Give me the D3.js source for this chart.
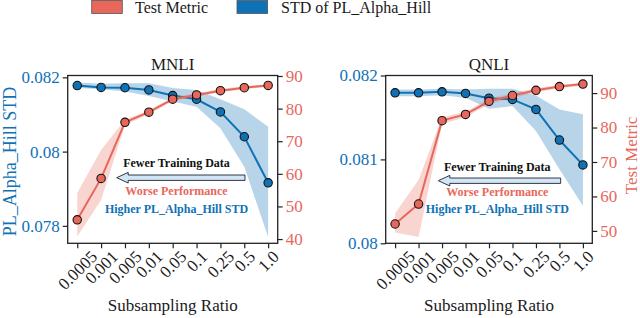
<!DOCTYPE html>
<html>
<head>
<meta charset="utf-8">
<script src="https://cdn.jsdelivr.net/npm/d3@7"></script>
<style>
	body { margin: 0; background: #fff; }
</style>
</head>
<body>
<svg id="chart" width="640" height="318"></svg>
<script>
// subsampling ratios (x categories)
var ratios = ["0.0005", "0.001", "0.005", "0.01", "0.05", "0.1", "0.25", "0.5", "1.0"];

// MNLI
var mnliStd      = [0.08178, 0.08173, 0.08172, 0.08166, 0.08151, 0.08141, 0.08107, 0.08040, 0.07916];
var mnliStdHi    = [0.08186, 0.08183, 0.08184, 0.08184, 0.08171, 0.08166, 0.08141, 0.08114, 0.08067];
var mnliStdLo    = [0.08171, 0.08168, 0.08162, 0.08150, 0.08135, 0.08121, 0.08063, 0.07959, 0.07770];
var mnliMetric   = [45.9, 58.6, 75.8, 78.9, 82.9, 84.2, 85.5, 86.4, 87.1];
var mnliMetricHi = [54.1, 67.3, 76.6, 79.5, 83.5, 84.7, 86.0, 86.9, 87.5];
var mnliMetricLo = [40.8, 52.0, 75.0, 78.3, 82.3, 83.7, 85.0, 85.9, 86.7];
var mnliStdTicks    = [0.078, 0.08, 0.082];
var mnliMetricTicks = [40, 50, 60, 70, 80, 90];

// QNLI
var qnliStd      = [0.081794, 0.081794, 0.081806, 0.081786, 0.08173, 0.081715, 0.081596, 0.081231, 0.080934];
var qnliStdHi    = [0.081834, 0.081834, 0.081842, 0.081834, 0.081842, 0.081842, 0.081762, 0.081596, 0.081537];
var qnliStdLo    = [0.081754, 0.081754, 0.081766, 0.081735, 0.081604, 0.081635, 0.081338, 0.080883, 0.080447];
var qnliMetric   = [52.0, 57.8, 82.0, 83.8, 87.6, 89.3, 90.8, 91.9, 92.6];
var qnliMetricHi = [55.1, 64.8, 83.0, 84.6, 88.4, 90.0, 91.4, 92.4, 93.0];
var qnliMetricLo = [49.5, 48.2, 81.0, 83.0, 86.8, 88.6, 90.2, 91.4, 92.2];
var qnliStdTicks    = [0.08, 0.081, 0.082];
var qnliMetricTicks = [50, 60, 70, 80, 90];

var legendLabels = ["Test Metric", "STD of PL_Alpha_Hill"];
var annoLines = ["Fewer Training Data", "Worse Performance", "Higher PL_Alpha_Hill STD"];

var BLUE = "#0f72b6", RED = "#e8675b", INK = "#222";

// pick the first serif face that is really installed (canvas width test)
function pickFont(){
	var ctx = document.createElement("canvas").getContext("2d");
	var probe = "Subsampling Ratio 0.0005 MNLI";
	var cands = ["Liberation Serif", "Tinos", "Times New Roman", "Nimbus Roman", "DejaVu Serif", "Noto Serif", "FreeSerif"];
	var bases = ["monospace", "sans-serif"];
	for (var i = 0; i < cands.length; i++) {
		for (var b = 0; b < bases.length; b++) {
			ctx.font = "20px " + bases[b];
			var w0 = ctx.measureText(probe).width;
			ctx.font = "20px '" + cands[i] + "', " + bases[b];
			if (Math.abs(ctx.measureText(probe).width - w0) > 0.5) return "'" + cands[i] + "', serif";
		}
	}
	return "serif";
}
var FONT = pickFont();

var svg = d3.select("#chart").attr("font-family", FONT);

function drawPanel(p){
	var g = svg.append("g").attr("transform", "translate(" + p.left + "," + p.top + ")");
	var x = d3.scaleLinear().domain([-0.4, ratios.length - 0.6]).range([0, p.w]);
	var yStd = d3.scaleLinear().domain(p.stdDomain).range([p.h, 0]);
	var yMet = d3.scaleLinear().domain(p.metDomain).range([p.h, 0]);

	g.append("clipPath").attr("id", "clip-" + p.id)
		.append("rect").attr("width", p.w).attr("height", p.h);
	var plot = g.append("g").attr("clip-path", "url(#clip-" + p.id + ")");

	var idx = d3.range(ratios.length);
	function band(y, lo, hi){
		return d3.area().x(function(i){ return x(i); })
			.y0(function(i){ return y(lo[i]); })
			.y1(function(i){ return y(hi[i]); })(idx);
	}
	function line(y, v){
		return d3.line().x(function(i){ return x(i); }).y(function(i){ return y(v[i]); })(idx);
	}

	// blue first, red (twin axis) on top
	plot.append("path").attr("d", band(yStd, p.stdLo, p.stdHi)).attr("fill", BLUE).attr("fill-opacity", 0.3);
	plot.append("path").attr("d", line(yStd, p.std)).attr("fill", "none").attr("stroke", BLUE).attr("stroke-width", 2);
	plot.selectAll(".ds").data(idx).enter().append("circle")
		.attr("cx", function(i){ return x(i); }).attr("cy", function(i){ return yStd(p.std[i]); })
		.attr("r", 4.2).attr("fill", BLUE).attr("stroke", "#111").attr("stroke-width", 1.1);

	plot.append("path").attr("d", band(yMet, p.metLo, p.metHi)).attr("fill", RED).attr("fill-opacity", 0.28);
	plot.append("path").attr("d", line(yMet, p.met)).attr("fill", "none").attr("stroke", RED).attr("stroke-width", 2);
	plot.selectAll(".dm").data(idx).enter().append("circle")
		.attr("cx", function(i){ return x(i); }).attr("cy", function(i){ return yMet(p.met[i]); })
		.attr("r", 4.2).attr("fill", RED).attr("stroke", "#111").attr("stroke-width", 1.1);

	// annotation arrow + text
	var ay = p.arrow.y, tip = p.arrow.tip, tail = p.arrow.tail, bh = 2.7, hh = 5.3, hl = 11.5;
	g.append("path").attr("d", d3.line()([
		[tail, ay - bh], [tip + hl, ay - bh], [tip + hl, ay - hh], [tip, ay],
		[tip + hl, ay + hh], [tip + hl, ay + bh], [tail, ay + bh]
	]) + "Z").attr("fill", "#d2e5f5").attr("stroke", "#1c2433").attr("stroke-width", 0.9);
	var annoColors = ["#111", RED, BLUE];
	annoLines.forEach(function(t, k){
		g.append("text").attr("x", p.anno.x).attr("y", p.anno.ys[k])
			.attr("text-anchor", "middle").attr("font-size", 12).attr("font-weight", "bold")
			.attr("fill", annoColors[k]).text(t);
	});

	// frame
	g.append("rect").attr("width", p.w).attr("height", p.h)
		.attr("fill", "none").attr("stroke", INK).attr("stroke-width", 1.3);

	function styleAxis(sel, color){
		sel.attr("font-family", FONT);
		sel.select(".domain").remove();
		sel.selectAll(".tick line").attr("stroke", INK).attr("stroke-width", 1.2);
		sel.selectAll(".tick text").attr("font-size", 17).attr("fill", color);
	}
	var fmt = d3.format("");
	g.append("g").call(d3.axisLeft(yStd).tickValues(p.stdTicks).tickFormat(fmt).tickSize(5).tickPadding(3))
		.call(styleAxis, BLUE);
	g.append("g").attr("transform", "translate(" + p.w + ",0)")
		.call(d3.axisRight(yMet).tickValues(p.metTicks).tickFormat(fmt).tickSize(5).tickPadding(3))
		.call(styleAxis, RED);
	var xa = g.append("g").attr("transform", "translate(0," + p.h + ")")
		.call(d3.axisBottom(x).tickValues(idx).tickFormat(function(i){ return ratios[i]; }).tickSize(5))
		.call(styleAxis, "#1a1a1a");
	// rotated labels, bbox centred under the tick (matplotlib rotation=45)
	xa.selectAll(".tick text").each(function(){
		var t = d3.select(this).attr("y", null).attr("dy", null)
			.attr("text-anchor", "middle").attr("dominant-baseline", "central");
		var L = this.getComputedTextLength();
		var D = (L + 0.68 * 17) * Math.SQRT1_2;
		t.attr("transform", "translate(0," + (6.5 + D / 2) + ") rotate(-45)");
	});

	g.append("text").attr("x", p.w / 2).attr("y", -6).attr("text-anchor", "middle")
		.attr("font-size", 17).attr("fill", "#1a1a1a").text(p.title);
	g.append("text").attr("x", p.w / 2).attr("y", 318 - p.top - 7).attr("text-anchor", "middle")
		.attr("font-size", 17).attr("fill", "#1a1a1a").text("Subsampling Ratio");
	if (p.yLabel) {
		g.append("text").attr("transform", "translate(" + p.yLabel.x + "," + (p.h / 2 + p.yLabel.dy) + ") rotate(-90)")
			.attr("text-anchor", "middle").attr("dominant-baseline", "central")
			.attr("font-size", p.yLabel.size).attr("fill", p.yLabel.color).text(p.yLabel.text);
	}
}

drawPanel({
	id: "mnli", title: "MNLI", left: 67.7, top: 75.5, w: 210, h: 167.8,
	std: mnliStd, stdLo: mnliStdLo, stdHi: mnliStdHi, stdDomain: [0.07753, 0.08205], stdTicks: mnliStdTicks,
	met: mnliMetric, metLo: mnliMetricLo, metHi: mnliMetricHi, metDomain: [38.7, 90.15], metTicks: mnliMetricTicks,
	arrow: { y: 102.2, tip: 49, tail: 177.3 },
	anno: { x: 108.8, ys: [91.8, 119.5, 137.2] },
	yLabel: { x: -58, dy: 2, size: 18, text: "PL_Alpha_Hill STD", color: BLUE }
});
drawPanel({
	id: "qnli", title: "QNLI", left: 385.7, top: 75.5, w: 206.6, h: 167.8,
	std: qnliStd, stdLo: qnliStdLo, stdHi: qnliStdHi, stdDomain: [0.08, 0.082], stdTicks: qnliStdTicks,
	met: qnliMetric, metLo: qnliMetricLo, metHi: qnliMetricHi, metDomain: [46.4, 95.1], metTicks: qnliMetricTicks,
	arrow: { y: 105.2, tip: 52.6, tail: 175 },
	anno: { x: 111.6, ys: [95.2, 120.2, 137.8] },
	yLabel: { x: 246, dy: -4, size: 17, text: "Test Metric", color: RED }
});

// legend
var leg = svg.append("g");
[[91.7, 135, RED], [237, 281, BLUE]].forEach(function(d, k){
	leg.append("rect").attr("x", d[0]).attr("y", 0.5).attr("width", 30.6).attr("height", 13)
		.attr("fill", d[2]).attr("stroke", "#555").attr("stroke-width", 0.8);
	leg.append("text").attr("x", d[1]).attr("y", 13).attr("font-size", 16)
		.attr("fill", "#1a1a1a").text(legendLabels[k]);
});
</script>
</body>
</html>
